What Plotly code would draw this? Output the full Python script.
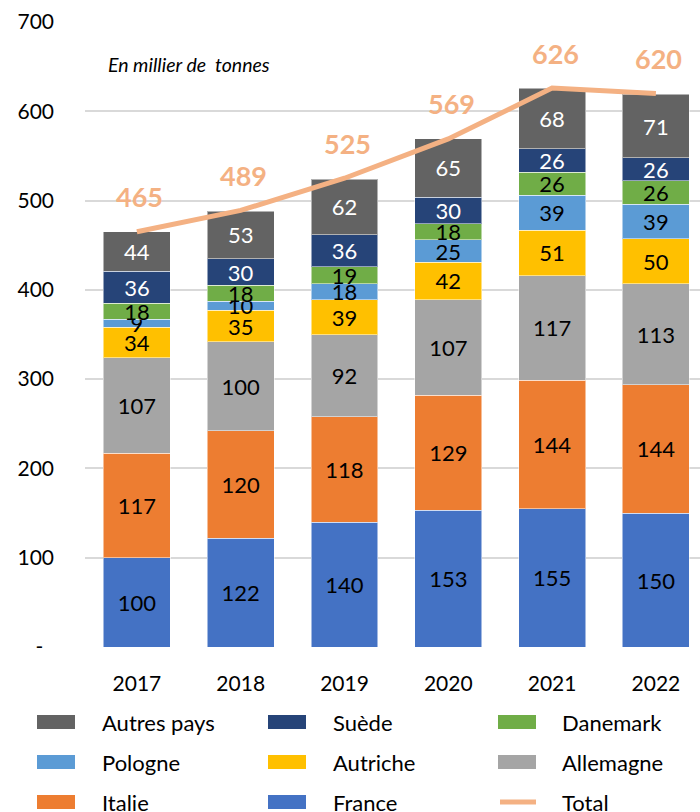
import plotly.graph_objects as go

years = ["2017", "2018", "2019", "2020", "2021", "2022"]
france = [100, 122, 140, 153, 155, 150]
italie = [117, 120, 118, 129, 144, 144]
allemagne = [107, 100, 92, 107, 117, 113]
autriche = [34, 35, 39, 42, 51, 50]
pologne = [9, 10, 18, 25, 39, 39]
danemark = [18, 18, 19, 18, 26, 26]
suede = [36, 30, 36, 30, 26, 26]
autres = [44, 53, 62, 65, 68, 71]
total = [465, 489, 525, 569, 626, 620]

y_ticks = [0, 100, 200, 300, 400, 500, 600, 700]
y_tick_text = ["-\u00a0\u00a0", "100", "200", "300", "400", "500", "600", "700"]

series = [
    ("France", france, "#4472C4", "black"),
    ("Italie", italie, "#ED7D31", "black"),
    ("Allemagne", allemagne, "#A5A5A5", "black"),
    ("Autriche", autriche, "#FFC000", "black"),
    ("Pologne", pologne, "#5B9BD5", "black"),
    ("Danemark", danemark, "#70AD47", "black"),
    ("Suède", suede, "#264478", "white"),
    ("Autres pays", autres, "#636363", "white"),
]
total_color = "#F4B183"
FONT = "Lato"

W, H = 700, 812
L, R, T, B = 85, 0, 22, 165
PW, PH = W - L - R, H - T - B

def px_x(p):
    return (p - L) / PW

def px_y(p):
    return (H - B - p) / PH

xs = list(range(len(years)))
fig = go.Figure()
for name, vals, color, tcolor in series:
    fig.add_trace(go.Bar(
        x=xs, y=vals, name=name, width=0.645,
        marker=dict(color=color, line=dict(color="rgba(255,255,255,0.5)", width=1)),
        text=[str(v) for v in vals], textposition="inside", insidetextanchor="middle",
        textangle=0, constraintext="none",
        textfont=dict(family=FONT, size=22, color=tcolor),
        hoverinfo="skip", showlegend=False,
    ))

fig.add_trace(go.Scatter(
    x=xs, y=total, mode="lines", name="Total",
    line=dict(color=total_color, width=5), showlegend=False, hoverinfo="skip",
))

annotations = []
for xi, t in zip(xs, total):
    annotations.append(dict(
        x=xi, y=t, xref="x", yref="y", text=f"<b>{t}</b>", showarrow=False,
        yshift=35, xshift=3, font=dict(family=FONT, size=27, color=total_color),
    ))

annotations.append(dict(
    x=px_x(106), y=px_y(65), xref="paper", yref="paper", xanchor="left", yanchor="middle",
    text="<i>En millier de  tonnes</i>", showarrow=False,
    font=dict(family=FONT, size=19.5, color="black"),
))

# manual legend
legend_items = [
    ("Autres pays", "#636363", "bar"), ("Suède", "#264478", "bar"), ("Danemark", "#70AD47", "bar"),
    ("Pologne", "#5B9BD5", "bar"), ("Autriche", "#FFC000", "bar"), ("Allemagne", "#A5A5A5", "bar"),
    ("Italie", "#ED7D31", "bar"), ("France", "#4472C4", "bar"), ("Total", total_color, "line"),
]
col_sw = [37, 268, 498]
col_tx = [100, 331, 560]
row_y = [722, 762, 802]
shapes = []
for i, (name, color, kind) in enumerate(legend_items):
    r, c = divmod(i, 3)
    cy = row_y[r]
    x0, x1 = col_sw[c], col_sw[c] + 38
    if kind == "bar":
        shapes.append(dict(type="rect", xref="paper", yref="paper",
                           x0=px_x(x0), x1=px_x(x1), y0=px_y(cy + 7), y1=px_y(cy - 7),
                           fillcolor=color, line=dict(width=0)))
    else:
        shapes.append(dict(type="line", xref="paper", yref="paper",
                           x0=px_x(x0 + 2), x1=px_x(x1), y0=px_y(cy), y1=px_y(cy),
                           line=dict(color=color, width=5)))
    annotations.append(dict(
        x=px_x(col_tx[c]), y=px_y(cy), xref="paper", yref="paper",
        xanchor="left", yanchor="middle", text=name, showarrow=False,
        font=dict(family=FONT, size=22, color="black"),
    ))

fig.update_layout(
    width=W, height=H, margin=dict(l=L, r=R, t=T, b=B),
    paper_bgcolor="white", plot_bgcolor="white",
    barmode="stack", showlegend=False,
    font=dict(family=FONT, size=21, color="black"),
    xaxis=dict(range=[-0.5, 5.425], tickvals=xs, ticktext=years, showgrid=False,
               zeroline=False, showline=False, ticks="", ticklabelstandoff=22,
               tickfont=dict(family=FONT, size=21, color="black")),
    yaxis=dict(range=[0, 700], tickvals=y_ticks, ticktext=y_tick_text, showgrid=True,
               gridcolor="#D9D9D9", gridwidth=1.5, zeroline=False, showline=False,
               ticks="", ticklabelstandoff=30,
               tickfont=dict(family=FONT, size=21, color="black")),
    annotations=annotations, shapes=shapes,
    uniformtext=dict(minsize=22, mode="show"),
)
fig.write_html("out.html")
